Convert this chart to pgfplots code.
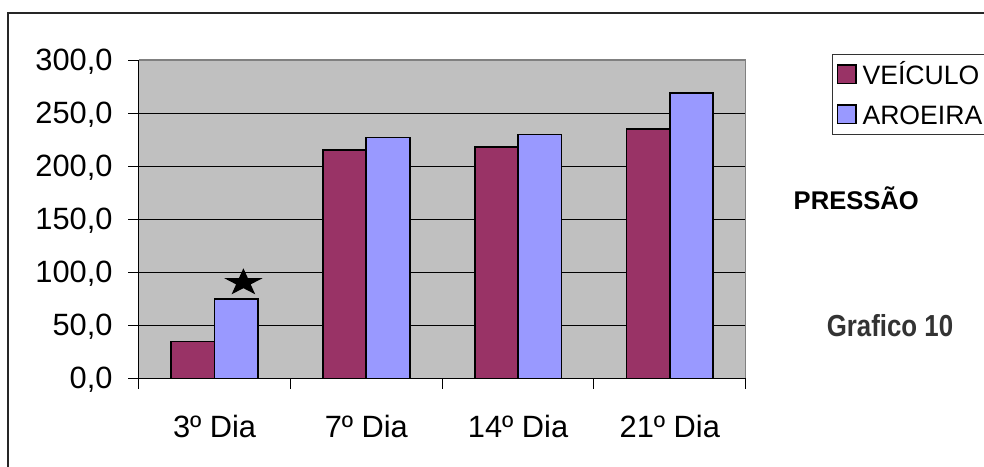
\documentclass[border=0pt]{standalone}
\usepackage{fontspec}
\setmainfont{Liberation Sans}
\usepackage{pgfplots}
\pgfplotsset{compat=1.18}

\definecolor{veiculo}{HTML}{993366}
\definecolor{aroeira}{HTML}{9999FF}
\definecolor{plotbg}{HTML}{C0C0C0}
\definecolor{framegray}{HTML}{808080}
\definecolor{notegray}{HTML}{333333}

% filled five-pointed star, slightly flattened
\pgfdeclareplotmark{flatstar}{%
  \pgfpathmoveto{\pgfqpoint{0pt}{7.2pt}}%
  \pgfpathlineto{\pgfqpoint{-2.256pt}{2.225pt}}%
  \pgfpathlineto{\pgfqpoint{-9.558pt}{2.225pt}}%
  \pgfpathlineto{\pgfqpoint{-3.648pt}{-0.850pt}}%
  \pgfpathlineto{\pgfqpoint{-5.909pt}{-5.825pt}}%
  \pgfpathlineto{\pgfqpoint{0pt}{-2.750pt}}%
  \pgfpathlineto{\pgfqpoint{5.909pt}{-5.825pt}}%
  \pgfpathlineto{\pgfqpoint{3.648pt}{-0.850pt}}%
  \pgfpathlineto{\pgfqpoint{9.558pt}{2.225pt}}%
  \pgfpathlineto{\pgfqpoint{2.256pt}{2.225pt}}%
  \pgfpathclose
  \pgfusepathqfill
}

\pgfplotsset{
  sqlegend/.style={legend image code/.code={%
      \draw[##1, line width=0.8pt] (0pt,-4.3pt) rectangle (9.2pt,4.9pt);}},
}

\begin{document}
\begin{tikzpicture}
\clip (0pt,0pt) rectangle (492pt,233pt);
% outer frame of the chart object
\draw[line width=0.6pt, black!85] (4pt,-5pt) -- (4pt,226.5pt) -- (497pt,226.5pt);

\begin{axis}[
  at={(69.35pt,43.65pt)}, anchor=south west,
  scale only axis, width=303.5pt, height=159.35pt,
  xmin=-0.5, xmax=3.5, ymin=0, ymax=300,
  axis background/.style={fill=plotbg},
  axis line style={draw=none},
  ytick={0,50,...,300},
  ymajorgrids, major grid style={black, line width=0.5pt},
  xtick={0,1,2,3},
  xticklabels={3º Dia, 7º Dia, 14º Dia, 21º Dia},
  minor xtick={-0.5,0.5,1.5,2.5,3.5},
  tick align=outside, tick pos=left,
  major tick length=5.2pt, minor tick length=5pt,
  tick style={black, line width=0.5pt},
  major x tick style={draw=none},
  yticklabel style={anchor=base east, inner sep=0pt, xshift=-7.7pt, yshift=-5pt,
    /pgf/number format/fixed, /pgf/number format/fixed zerofill,
    /pgf/number format/precision=1, /pgf/number format/use comma,
    /pgf/number format/assume math mode=true},
  xticklabel style={anchor=base, inner sep=0pt, yshift=-24.1pt},
  tick label style={font=\fontsize{15.4}{18}\selectfont},
  legend style={at={(axis description cs:1.1427,1.0179)}, anchor=north west,
    draw=black!80, line width=0.5pt, fill=white,
    font=\fontsize{13.3}{15}\selectfont,
    inner xsep=2pt, inner ysep=0pt, row sep=0pt,
    nodes={inner sep=0pt, text height=14.75pt, text depth=5.25pt},
    /tikz/every odd column/.append style={column sep=2.85pt}},
  legend cell align=left,
  after end axis/.code={
    \draw[framegray, line width=0.6pt] (rel axis cs:0,1) -- (rel axis cs:1,1) -- (rel axis cs:1,0);
    \draw[black, line width=0.6pt] (rel axis cs:0,1) -- (rel axis cs:0,0) -- (rel axis cs:1,0);
  },
]
\addplot[ybar, bar width=21.7pt, bar shift=-10.85pt, fill=veiculo, draw=black,
  line width=0.85pt, sqlegend]
  coordinates {(0,35) (1,215) (2,218) (3,235)};
\addlegendentry{VEÍCULO}
\addplot[ybar, bar width=21.7pt, bar shift=10.85pt, fill=aroeira, draw=black,
  line width=0.85pt, sqlegend]
  coordinates {(0,75) (1,227) (2,230) (3,269)};
\addlegendentry{AROEIRA}
% significance marker above the 3rd-day bar
\addplot[only marks, mark=flatstar, black, forget plot]
  coordinates {(0.19,90.4)};
\end{axis}

\node[anchor=base west, inner sep=0pt, font=\bfseries\fontsize{12.8}{14}\selectfont]
  at (396.65pt,128pt) {PRESSÃO};
\node[anchor=base, inner sep=0pt, text=notegray,
  font=\bfseries\fontsize{15.2}{18}\selectfont]
  at (445pt,64.65pt) {\scalebox{0.85}[1]{Grafico 10}};
\end{tikzpicture}
\end{document}
